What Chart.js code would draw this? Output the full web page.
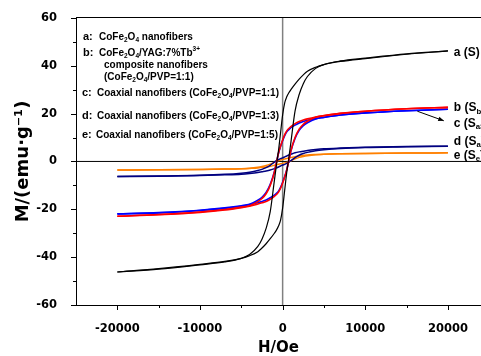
<!DOCTYPE html>
<html>
<head>
<meta charset="utf-8">
<script src="https://cdn.jsdelivr.net/npm/chart.js@4.4.1/dist/chart.umd.min.js"></script>
<style>
  html, body { margin: 0; padding: 0; background: #fff; }
  #wrap { width: 481px; height: 356px; }
</style>
</head>
<body>
<div id="wrap"><canvas id="loops" width="481" height="356"></canvas></div>
<script>
// field grid (Oe), shared by every branch
const fieldH = [-20000, -15000, -10000, -7000, -5000, -4000, -3000, -2500, -2000, -1500, -1000, -750, -500, -250,
  0, 250, 500, 750, 1000, 1500, 2000, 2500, 3000, 4000, 5000, 7000, 10000, 15000, 20000];

// magnetization (emu/g): "upper" = field sweeping down, "lower" = field sweeping up
const aUpper = [-46.2, -45.0, -43.2, -42.0, -40.5, -38.9, -35.5, -32.5, -28.0, -21.0, -8.0, -1.5, 4.5, 12.0,
  19.5, 24.5, 27.0, 28.7, 30.0, 32.3, 34.4, 36.2, 37.7, 39.4, 40.5, 41.8, 43.0, 44.8, 46.2];
const aLower = [-46.2, -44.8, -43.0, -41.8, -40.5, -39.4, -37.7, -36.2, -34.4, -32.3, -30.0, -28.7, -27.0, -24.5,
  -19.5, -12.0, -4.5, 1.5, 8.0, 21.0, 28.0, 32.5, 35.5, 38.9, 40.5, 42.0, 43.2, 45.0, 46.2];

const bUpper = [-22.9, -22.2, -21.1, -20.1, -19.1, -18.5, -16.8, -15.5, -13.5, -10.0, -4.5, -0.5, 3.5, 6.5,
  9.0, 11.2, 12.8, 13.8, 14.6, 15.8, 16.7, 17.3, 17.8, 18.6, 19.2, 20.1, 21.0, 22.0, 22.6];
const bLower = [-22.9, -22.3, -21.3, -20.3, -19.3, -18.7, -17.8, -17.3, -16.7, -15.8, -14.6, -13.8, -12.8, -11.2,
  -9.0, -6.5, -3.5, 0.5, 4.5, 10.0, 13.5, 15.5, 16.8, 18.5, 19.1, 20.1, 21.0, 22.0, 22.6];

const cUpper = [-21.9, -21.4, -20.4, -19.4, -18.5, -17.9, -16.2, -15.0, -13.0, -9.6, -4.3, -0.4, 3.4, 6.3,
  8.7, 10.8, 12.4, 13.3, 14.1, 15.2, 16.1, 16.7, 17.2, 17.9, 18.5, 19.4, 20.3, 21.2, 21.8];
const cLower = [-21.9, -21.5, -20.5, -19.6, -18.7, -18.0, -17.2, -16.7, -16.1, -15.2, -14.1, -13.3, -12.4, -10.8,
  -8.7, -6.3, -3.4, 0.4, 4.3, 9.6, 13.0, 15.0, 16.2, 17.8, 18.4, 19.4, 20.3, 21.2, 21.8];

const dUpper = [-6.3, -6.1, -5.8, -5.4, -4.9, -4.5, -3.8, -3.3, -2.6, -1.6, -0.3, 0.3, 0.8, 1.2,
  1.5, 1.9, 2.3, 2.7, 3.0, 3.6, 4.0, 4.3, 4.6, 5.0, 5.3, 5.6, 5.9, 6.2, 6.4];
const dLower = [-6.3, -6.2, -5.9, -5.6, -5.3, -5.0, -4.6, -4.3, -4.0, -3.6, -3.0, -2.7, -2.3, -1.9,
  -1.5, -1.2, -0.8, -0.3, 0.3, 1.6, 2.6, 3.3, 3.8, 4.5, 4.9, 5.4, 5.8, 6.1, 6.4];

const eUpper = [-3.6, -3.5, -3.35, -3.2, -3.0, -2.8, -2.4, -2.1, -1.7, -1.1, -0.3, 0.1, 0.4, 0.6,
  0.8, 1.0, 1.2, 1.4, 1.6, 2.0, 2.3, 2.5, 2.7, 2.9, 3.05, 3.2, 3.35, 3.5, 3.6];
const eLower = [-3.6, -3.5, -3.35, -3.2, -3.05, -2.9, -2.7, -2.5, -2.3, -2.0, -1.6, -1.4, -1.2, -1.0,
  -0.8, -0.6, -0.4, -0.1, 0.3, 1.1, 1.7, 2.1, 2.4, 2.8, 3.0, 3.2, 3.35, 3.5, 3.6];

const xTickValues = [-25000, -20000, -15000, -10000, -5000, 0, 5000, 10000, 15000, 20000];
const yTickValues = [-60, -50, -40, -30, -20, -10, 0, 10, 20, 30, 40, 50, 60];

const FONT = "'Liberation Sans', Arial, sans-serif";
const AXIS_FONT = "'DejaVu Sans', sans-serif";

const samples = [
  { upper: aUpper, lower: aLower, color: '#000000', width: 1.2 },
  { upper: bUpper, lower: bLower, color: '#ff0000', width: 1.6 },
  { upper: cUpper, lower: cLower, color: '#0000ff', width: 1.6 },
  { upper: dUpper, lower: dLower, color: '#000080', width: 1.5 },
  { upper: eUpper, lower: eLower, color: '#ff8000', width: 1.5 }
];

const datasets = [];
samples.forEach(s => {
  [s.upper, s.lower].forEach(m => {
    datasets.push({
      data: fieldH.map((h, i) => ({ x: h, y: m[i] })),
      showLine: true,
      borderColor: s.color,
      borderWidth: s.width,
      pointRadius: 0,
      cubicInterpolationMode: 'monotone'
    });
  });
});

// legend block, text runs: [text, 'sub' | 'sup' | undefined]
const legendRows = [
  { y: 37, key: 'a:', kx: 83, tx: 99, parts: [['CoFe'], ['2', 'sub'], ['O'], ['4', 'sub'], [' nanofibers']] },
  { y: 53, key: 'b:', kx: 83, tx: 99, parts: [['CoFe'], ['2', 'sub'], ['O'], ['4', 'sub'], ['/YAG:7%Tb'], ['3+', 'sup']] },
  { y: 65, tx: 104, parts: [['composite nanofibers']] },
  { y: 77, tx: 104, parts: [['(CoFe'], ['2', 'sub'], ['O'], ['4', 'sub'], ['/PVP=1:1)']] },
  { y: 93, key: 'c:', kx: 82, tx: 97, parts: [['Coaxial nanofibers (CoFe'], ['2', 'sub'], ['O'], ['4', 'sub'], ['/PVP=1:1)']] },
  { y: 116, key: 'd:', kx: 82, tx: 97, parts: [['Coaxial nanofibers (CoFe'], ['2', 'sub'], ['O'], ['4', 'sub'], ['/PVP=1:3)']] },
  { y: 135, key: 'e:', kx: 82, tx: 96, parts: [['Coaxial nanofibers (CoFe'], ['2', 'sub'], ['O'], ['4', 'sub'], ['/PVP=1:5)']] }
];

// curve tags at the right, anchored in data units
const curveTags = [
  { h: 20700, m: 45.5, parts: [['a (S)']] },
  { h: 20700, m: 22.3, parts: [['b (S'], ['b', 'sub'], [')']] },
  { h: 20700, m: 15.8, parts: [['c (S'], ['a3', 'sub'], [')']] },
  { h: 20700, m: 8.3, parts: [['d (S'], ['a', 'sub'], [')']] },
  { h: 20700, m: 2.5, parts: [['e (S'], ['e', 'sub'], [')']] }
];

function drawRich(ctx, x, y, parts, size) {
  let cx = x;
  parts.forEach(([t, kind]) => {
    let s = size, dy = 0;
    if (kind === 'sub') { s = size * 0.65; dy = size * 0.3; }
    if (kind === 'sup') { s = size * 0.65; dy = -size * 0.4; }
    ctx.font = 'bold ' + s + 'px ' + FONT;
    ctx.fillText(t, cx, y + dy);
    cx += ctx.measureText(t).width;
  });
}

const decorPlugin = {
  id: 'decor',
  beforeDatasetsDraw(chart) {
    const { ctx, chartArea: ca, scales: { x, y } } = chart;
    const x0 = x.getPixelForValue(0);
    const y0 = y.getPixelForValue(0);
    ctx.save();
    ctx.strokeStyle = '#808080';
    ctx.lineWidth = 1.5;
    ctx.beginPath(); ctx.moveTo(x0, ca.top); ctx.lineTo(x0, ca.bottom); ctx.stroke();
    ctx.strokeStyle = '#000';
    ctx.lineWidth = 1;
    ctx.beginPath(); ctx.moveTo(ca.left, y0); ctx.lineTo(ca.right, y0); ctx.stroke();
    ctx.restore();
  },
  afterDraw(chart) {
    const { ctx, chartArea: ca, scales: { x, y } } = chart;
    ctx.save();
    ctx.strokeStyle = '#000';
    ctx.lineWidth = 1;
    // outward tick marks, short ones for minor steps
    x.ticks.forEach(t => {
      if (t.value === -25000) return;
      const px = Math.round(x.getPixelForValue(t.value)) + 0.5;
      const len = t.value % 10000 === 0 ? 5 : 3;
      ctx.beginPath(); ctx.moveTo(px, ca.bottom); ctx.lineTo(px, ca.bottom + len); ctx.stroke();
    });
    y.ticks.forEach(t => {
      const py = Math.round(y.getPixelForValue(t.value)) + 0.5;
      const len = t.value % 20 === 0 ? 5 : 3;
      ctx.beginPath(); ctx.moveTo(ca.left, py); ctx.lineTo(ca.left - len, py); ctx.stroke();
    });

    ctx.fillStyle = '#000';
    ctx.textBaseline = 'middle';
    ctx.textAlign = 'left';
    legendRows.forEach(r => {
      if (r.key) {
        ctx.font = 'bold 11px ' + FONT;
        ctx.fillText(r.key, r.kx, r.y);
      }
      drawRich(ctx, r.tx, r.y, r.parts, 10);
    });
    curveTags.forEach(c => {
      drawRich(ctx, x.getPixelForValue(c.h), y.getPixelForValue(c.m), c.parts, 12);
    });

    // arrow from the c curve to its tag
    const ax0 = x.getPixelForValue(16300), ay0 = y.getPixelForValue(21.0);
    const ax1 = x.getPixelForValue(19500), ay1 = y.getPixelForValue(17.0);
    ctx.beginPath(); ctx.moveTo(ax0, ay0); ctx.lineTo(ax1, ay1); ctx.stroke();
    const ang = Math.atan2(ay1 - ay0, ax1 - ax0);
    ctx.beginPath();
    ctx.moveTo(ax1, ay1);
    ctx.lineTo(ax1 - 6 * Math.cos(ang - 0.4), ay1 - 6 * Math.sin(ang - 0.4));
    ctx.lineTo(ax1 - 6 * Math.cos(ang + 0.4), ay1 - 6 * Math.sin(ang + 0.4));
    ctx.closePath();
    ctx.fill();
    ctx.restore();
  }
};

new Chart(document.getElementById('loops'), {
  type: 'scatter',
  data: { datasets },
  plugins: [decorPlugin],
  options: {
    responsive: false,
    animation: false,
    devicePixelRatio: 1,
    layout: { padding: 0 },
    plugins: { legend: { display: false }, tooltip: { enabled: false } },
    scales: {
      x: {
        type: 'linear',
        position: 'bottom',
        min: -25000,
        max: 24000,
        afterBuildTicks: s => { s.ticks = xTickValues.map(v => ({ value: v })); },
        afterFit: s => { s.height = 51; },
        grid: { display: false },
        border: { display: true, color: '#000', width: 1 },
        ticks: {
          autoSkip: false,
          maxRotation: 0,
          padding: 9,
          color: '#000',
          font: { family: AXIS_FONT, size: 11.5, weight: 'bold' },
          callback: v => (v % 10000 === 0 && v !== -25000 ? String(v) : '')
        },
        title: {
          display: true,
          text: 'H/Oe',
          color: '#000',
          font: { family: AXIS_FONT, size: 15, weight: 'bold', lineHeight: 1 },
          padding: { top: 0, bottom: 0 }
        }
      },
      xTop: {
        type: 'linear',
        position: 'top',
        min: -25000,
        max: 24000,
        afterFit: s => { s.height = 15; },
        grid: { display: false },
        border: { display: true, color: '#000', width: 1 },
        ticks: { display: false }
      },
      y: {
        type: 'linear',
        min: -60,
        max: 60,
        afterBuildTicks: s => { s.ticks = yTickValues.map(v => ({ value: v })); },
        afterFit: s => { s.width = 76; },
        grid: { display: false },
        border: { display: true, color: '#000', width: 1 },
        ticks: {
          padding: 11,
          color: '#000',
          font: { family: AXIS_FONT, size: 11.5, weight: 'bold' },
          callback: v => (v % 20 === 0 ? String(v) : '')
        },
        title: {
          display: true,
          text: 'M/(emu\u00b7g\u207b\u00b9)',
          color: '#000',
          font: { family: AXIS_FONT, size: 18, weight: 'bold', lineHeight: 1.2 },
          padding: { top: 12.5, bottom: 0 }
        }
      }
    }
  }
});
</script>
</body>
</html>
